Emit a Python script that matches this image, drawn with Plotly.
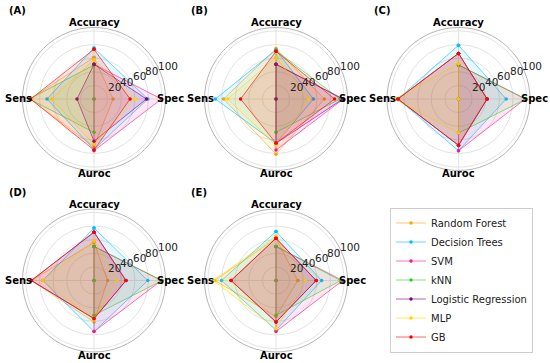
import math
import plotly.graph_objects as go

categories = ["Accuracy", "Spec", "Auroc", "Sens"]
models = ["Random Forest", "Decision Trees", "SVM", "kNN", "Logistic Regression", "MLP", "GB"]
colors = ["#ffa500", "#00bfff", "#ff1493", "#32cd32", "#800080", "#ffd700", "#ff0000"]
panel_names = ["(A)", "(B)", "(C)", "(D)", "(E)"]

# values per panel, per model: [Accuracy, Spec, Auroc, Sens]
panel_A = [[61, 28, 70, 94], [75, 79, 74, 69], [51, 99, 76, 0], [50, 0, 49, 95],
           [51, 77, 62, 25], [58, 61, 67, 62], [73, 53, 75, 93]]
panel_B = [[74, 71, 81, 77], [72, 55, 65, 89], [51, 99, 75, 0], [71, 94, 49, 0],
           [51, 98, 65, 0], [61, 48, 68, 71], [70, 86, 65, 52]]
panel_C = [[67, 42, 68, 89], [79, 70, 76, 89], [50, 98, 76, 0], [50, 99, 50, 0],
           [67, 42, 68, 89], [52, 0, 50, 94], [67, 42, 68, 89]]
panel_D = [[56, 20, 61, 92], [77, 79, 75, 75], [50, 99, 75, 0], [50, 100, 51, 0],
           [71, 47, 56, 92], [58, 34, 58, 75], [71, 47, 56, 92]]
panel_E = [[62, 32, 53, 90], [72, 67, 73, 80], [50, 98, 75, 0], [50, 95, 51, 0],
           [62, 59, 61, 66], [65, 43, 71, 92], [62, 59, 61, 66]]
panels = [panel_A, panel_B, panel_C, panel_D, panel_E]

radial_ticks = [20, 40, 60, 80, 100]
r_max = 105
label_angle = 22.5

W, H = 550, 363
R = 71.5
centers = [(94, 99), (276, 99), (458.5, 99), (94, 280.5), (276, 280.5)]


def rgba(hex_color, a):
    h = hex_color.lstrip("#")
    r, g, b = int(h[0:2], 16), int(h[2:4], 16), int(h[4:6], 16)
    return f"rgba({r},{g},{b},{a})"


fig = go.Figure()
annotations = []
for p, (data, (cx, cy)) in enumerate(zip(panels, centers)):
    pname = "polar" if p == 0 else f"polar{p + 1}"
    for m, (name, col) in enumerate(zip(models, colors)):
        vals = data[m]
        rr = vals + [vals[0]]
        tt = categories + [categories[0]]
        fig.add_trace(go.Scatterpolar(
            r=rr, theta=tt, mode="lines", line=dict(width=0, color=rgba(col, 0)),
            fill="toself", fillcolor=rgba(col, 0.1),
            subplot=pname, showlegend=False, hoverinfo="skip",
        ))
        fig.add_trace(go.Scatterpolar(
            r=rr, theta=tt,
            mode="lines+markers",
            name=name,
            line=dict(color=rgba(col, 0.6), width=1),
            marker=dict(color=col, size=3.5),
            subplot=pname,
            showlegend=(p == 0),
        ))
    dom = dict(x=[(cx - R) / W, (cx + R) / W], y=[1 - (cy + R) / H, 1 - (cy - R) / H])
    fig.update_layout(**{pname: dict(
        domain=dom,
        bgcolor="white",
        radialaxis=dict(range=[0, r_max], tickvals=radial_ticks, showticklabels=False,
                        showline=False, ticks="", gridcolor="#e3e3e3", gridwidth=0.8),
        angularaxis=dict(categoryorder="array", categoryarray=categories, rotation=90,
                         direction="clockwise", showticklabels=False, ticks="",
                         showline=True, linecolor="#b5b5b5", linewidth=1,
                         gridcolor="#e3e3e3", gridwidth=0.8),
    )})
    # radial tick labels at 22.5 degrees
    a = math.radians(label_angle)
    for t in radial_ticks:
        rp = t / r_max * R
        annotations.append(dict(text=str(t), x=(cx + rp * math.cos(a) - 1) / W,
                                y=1 - (cy - rp * math.sin(a) - 7) / H,
                                xref="paper", yref="paper", showarrow=False,
                                xanchor="left", yanchor="middle",
                                font=dict(family="DejaVu Sans", size=10.5, color="#222")))
    # axis category labels
    off = 76
    for lab, (dx, dy) in zip(categories, [(0, -off), (off, 0), (0, off - 1.5), (-off, 0)]):
        annotations.append(dict(text=f"<b>{lab}</b>", x=(cx + dx) / W, y=1 - (cy + dy) / H,
                                xref="paper", yref="paper", showarrow=False,
                                xanchor="center", yanchor="middle",
                                font=dict(family="DejaVu Sans", size=10, color="black")))
    annotations.append(dict(text=f"<b>{panel_names[p]}</b>", x=(cx - 87) / W, y=1 - (cy - 88.5) / H,
                            xref="paper", yref="paper", showarrow=False,
                            xanchor="left", yanchor="middle",
                            font=dict(family="DejaVu Sans", size=10, color="black")))

fig.update_layout(
    width=W, height=H,
    margin=dict(l=0, r=0, t=0, b=0, autoexpand=False),
    paper_bgcolor="white",
    annotations=annotations,
    showlegend=True,
    legend=dict(x=390 / W, y=1 - 280 / H, xanchor="left", yanchor="middle",
                bordercolor="#cccccc", borderwidth=1, bgcolor="white",
                tracegroupgap=0, itemwidth=30,
                font=dict(family="DejaVu Sans", size=10, color="#222")),
)

fig.write_html("out.html", config={"displayModeBar": False},
               post_script="document.body.style.margin='0';")
